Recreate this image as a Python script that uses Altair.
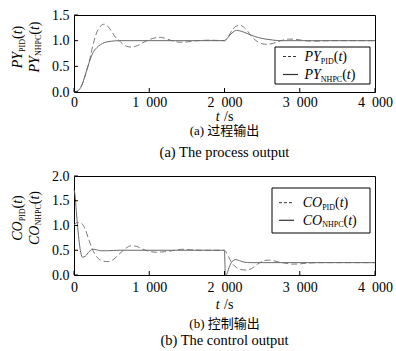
import altair as alt
import pandas as pd

SERIF = "Liberation Serif"
MIXED = "'Liberation Serif', 'Noto Sans CJK SC'"

X_TICKS = [0, 1000, 2000, 3000, 4000]
PY_TICKS = [0.0, 0.5, 1.0, 1.5]
CO_TICKS = [0.0, 0.5, 1.0, 1.5, 2.0]

# (a) process output
T_PY_PID = [0, 50, 100, 150, 200, 250, 300, 350, 400, 450, 500, 550, 600, 650, 700, 760, 820, 900, 1000, 1100,
            1150, 1200, 1300, 1400, 1500, 1600, 1700, 1800, 1900, 2000, 2050, 2100, 2150, 2200, 2250, 2300, 2350,
            2420, 2500, 2560, 2650, 2750, 2850, 2920, 3000, 3100, 3200, 3300, 3400, 4000]
PY_PID = [0, 0.02, 0.12, 0.33, 0.58, 0.90, 1.15, 1.28, 1.32, 1.28, 1.18, 1.07, 1.00, 0.93, 0.89, 0.875, 0.89, 0.95,
          1.02, 1.06, 1.065, 1.05, 1.00, 0.97, 0.975, 0.995, 1.005, 1.01, 1.005, 1.00, 1.08, 1.20, 1.28, 1.30, 1.27,
          1.20, 1.10, 1.00, 0.94, 0.93, 0.95, 1.00, 1.03, 1.03, 1.015, 0.995, 0.99, 0.995, 1.0, 1.0]
T_PY_NHPC = [0, 50, 100, 150, 200, 250, 300, 350, 400, 450, 500, 600, 2000, 2050, 2100, 2160, 2250, 2350, 2450,
             2550, 2650, 2750, 4000]
PY_NHPC = [0, 0.02, 0.12, 0.33, 0.57, 0.76, 0.86, 0.92, 0.96, 0.98, 0.99, 1.0, 1.0, 1.07, 1.15, 1.20, 1.17, 1.11,
           1.06, 1.03, 1.01, 1.0, 1.0]

# (b) control output
T_CO_PID = [0, 40, 100, 150, 200, 250, 300, 370, 450, 520, 600, 680, 760, 830, 900, 1000, 1100, 1200, 1300, 1450,
            1550, 1700, 2000, 2030, 2070, 2110, 2160, 2220, 2290, 2360, 2440, 2530, 2600, 2700, 2800, 2900, 3000,
            3100, 3300, 4000]
CO_PID = [1.0, 1.06, 1.04, 0.92, 0.70, 0.50, 0.37, 0.29, 0.27, 0.31, 0.42, 0.53, 0.59, 0.58, 0.53, 0.48, 0.46, 0.47,
          0.49, 0.52, 0.51, 0.50, 0.50, 0.44, 0.32, 0.22, 0.15, 0.11, 0.10, 0.13, 0.22, 0.29, 0.30, 0.27, 0.24, 0.22,
          0.225, 0.24, 0.25, 0.25]
T_CO_NHPC = [0, 15, 30, 50, 70, 90, 115, 150, 200, 250, 300, 350, 450, 600, 2000, 2005, 2012, 2030, 2060, 2100,
             2150, 2200, 2260, 2350, 4000]
CO_NHPC = [1.72, 1.60, 1.30, 0.95, 0.65, 0.45, 0.36, 0.38, 0.47, 0.52, 0.51, 0.49, 0.49, 0.50, 0.50, 0.25, 0.0,
           0.02, 0.15, 0.27, 0.31, 0.29, 0.26, 0.25, 0.25]

W_REG = {'(': .333, ')': .333, 'P': .556, 'I': .333, 'D': .722, 'N': .722, 'H': .722, 'C': .667,
         '/': .278, 's': .389, ' ': .25, 't': .278}
W_IT = {'P': .611, 'Y': .556, 'C': .667, 'O': .722, 't': .278}

ONE = pd.DataFrame({'k': [0]})


def tw(s, size, italic):
    tab = W_IT if italic else W_REG
    return sum(tab.get(c, .5) for c in s) * size


def piece(s, x, y, size=14, italic=False, angle=0, align='left', baseline='alphabetic', font=SERIF):
    return alt.Chart(ONE).mark_text(
        text=s, font=font, fontSize=size, fontStyle='italic' if italic else 'normal',
        align=align, baseline=baseline, angle=angle, color='black'
    ).encode(x=alt.value(x), y=alt.value(y))


def rich(pieces, x, y, vertical=False, baseline='alphabetic'):
    out = []
    pos = 0.0
    for s, size, italic, shift in pieces:
        if vertical:
            out.append(piece(s, x + shift, y - pos, size, italic, angle=270, baseline=baseline))
        else:
            out.append(piece(s, x + pos, y + shift, size, italic, baseline=baseline))
        pos += tw(s, size, italic)
    return out, pos


def lab(main, sub):
    return [(main, 14, True, 0), (sub, 8, False, 2.5), ('(', 14, False, 0), ('t', 14, True, 0), (')', 14, False, 0)]


XSCALE = alt.Scale(domain=[0, 4000], nice=False, zero=False)


def panel(tp, vp, tn, vn, yticks, ymax, H, main, box, rows, sample_x, text_x, ycenter,
          label_pad, ts_y, cap1, cap2, cap_y1, cap_y2, anchor=False):
    W = 301
    yscale = alt.Scale(domain=[0, ymax], nice=False)
    xaxis = alt.Axis(values=X_TICKS, title=None, labelFlush=False, labelOverlap=False, labelPadding=label_pad,
                     labelFont=SERIF, labelFontSize=14, labelColor='black', ticks=False, tickSize=0, domain=False,
                     labelExpr="datum.value === 0 ? '0' : replace(format(datum.value, ','), ',', '\u2002')")
    yaxis = alt.Axis(values=yticks, format='.1f', title=None, labelFlush=False, labelPadding=5,
                     labelFont=SERIF, labelFontSize=14, labelColor='black', ticks=False, tickSize=0, domain=False)
    pid = alt.Chart(pd.DataFrame({'t': tp, 'v': vp})).mark_line(
        color='#7a7a7a', strokeWidth=1, strokeDash=[6, 3], interpolate='monotone'
    ).encode(x=alt.X('t:Q', scale=XSCALE, axis=xaxis), y=alt.Y('v:Q', scale=yscale, axis=yaxis))
    nhpc = alt.Chart(pd.DataFrame({'t': tn, 'v': vn})).mark_line(
        color='#6a6a6a', strokeWidth=1, interpolate='monotone'
    ).encode(x=alt.X('t:Q', scale=XSCALE, axis=xaxis), y=alt.Y('v:Q', scale=yscale, axis=yaxis))
    xt = alt.Chart(pd.DataFrame({'t': X_TICKS})).mark_rule(color='black', strokeWidth=1).encode(
        x=alt.X('t:Q', scale=XSCALE, axis=xaxis), y=alt.value(H), y2=alt.value(H - 4))
    yt = alt.Chart(pd.DataFrame({'v': yticks})).mark_rule(color='black', strokeWidth=1).encode(
        y=alt.Y('v:Q', scale=yscale, axis=yaxis), x=alt.value(0), x2=alt.value(4))
    layers = [pid, nhpc, xt, yt]
    # legend
    bx0, bx1, by0, by1 = box
    layers.append(alt.Chart(ONE).mark_rect(fill='white', stroke='black', strokeWidth=1).encode(
        x=alt.value(bx0), x2=alt.value(bx1), y=alt.value(by0), y2=alt.value(by1)))
    (r1, r2) = rows
    layers.append(alt.Chart(ONE).mark_rule(color='#333333', strokeWidth=1, strokeDash=[3, 2]).encode(
        x=alt.value(sample_x[0]), x2=alt.value(sample_x[1]), y=alt.value(r1)))
    layers.append(alt.Chart(ONE).mark_rule(color='#333333', strokeWidth=1.2).encode(
        x=alt.value(sample_x[0]), x2=alt.value(sample_x[1]), y=alt.value(r2)))
    p1, _ = rich(lab(main, 'PID'), text_x, r1 + 4.5)
    p2, _ = rich(lab(main, 'NHPC'), text_x, r2 + 4.5)
    layers += p1 + p2
    # y titles (rotated)
    l1 = lab(main, 'PID')
    l2 = lab(main, 'NHPC')
    w1 = sum(tw(s, z, i) for s, z, i, _ in l1)
    w2 = sum(tw(s, z, i) for s, z, i, _ in l2)
    v1, _ = rich(l1, -52, ycenter + w1 / 2, vertical=True)
    v2, _ = rich(l2, -35.5, ycenter + w2 / 2, vertical=True)
    layers += v1 + v2
    # x title "t /s"
    wt = tw('t', 14, True)
    wsl = tw('/s', 14, False)
    gap = 4.5
    x0 = W / 2 - (wt + gap + wsl) / 2
    layers.append(piece('t', x0, ts_y, 14, True, baseline='middle'))
    layers.append(piece('/s', x0 + wt + gap, ts_y, 14, False, baseline='middle'))
    layers.append(piece(cap1, W / 2, cap_y1, size=13, align='center', baseline='middle', font=MIXED))
    layers.append(piece(cap2, W / 2, cap_y2, size=14.5, align='center', baseline='middle', font=MIXED))
    if anchor:
        layers.append(alt.Chart(ONE).mark_rule(strokeOpacity=0).encode(
            x=alt.value(-73), y=alt.value(-14), y2=alt.value(-13)))
    return alt.layer(*layers).properties(width=W, height=H)


top = panel(T_PY_PID, PY_PID, T_PY_NHPC, PY_NHPC, PY_TICKS, 1.5, 77, 'PY',
            box=(201, 296, 32, 69), rows=(41.5, 59.5), sample_x=(209, 224), text_x=230.5, ycenter=32,
            label_pad=3, ts_y=102, cap1='(a) 过程输出', cap2='(a) The process output', cap_y1=116, cap_y2=138,
            anchor=True)
bottom = panel(T_CO_PID, CO_PID, T_CO_NHPC, CO_NHPC, CO_TICKS, 2.0, 99, 'CO',
               box=(198, 296, 12, 57), rows=(26.7, 44.3), sample_x=(205, 220), text_x=228.7, ycenter=42,
               label_pad=5, ts_y=129, cap1='(b) 控制输出', cap2='(b) The control output', cap_y1=148, cap_y2=165)

chart = alt.vconcat(top, bottom, spacing=84, bounds='flush').configure_view(
    stroke='black', strokeWidth=1, fill='white'
).configure_axis(
    labelFont=SERIF, labelFontSize=14, labelColor='black', ticks=False, domain=False, grid=False
).properties(padding=0, background='white')

chart.save("out.html", embed_options={"renderer": "svg", "actions": False})
